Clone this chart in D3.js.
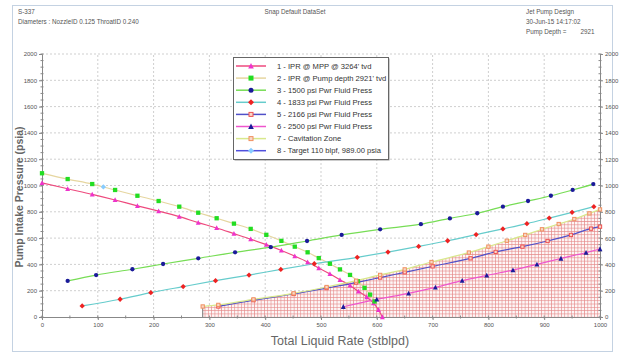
<!DOCTYPE html>
<html>
<head>
<meta charset="utf-8">
<script src="https://cdn.jsdelivr.net/npm/d3@7"></script>
<style>
  body { margin: 0; background: #fff; }
  text { font-family: "Liberation Sans", Arial, sans-serif; }
</style>
</head>
<body>
<script>
var width = 620,
    height = 356;

// series values [rate stblpd, pressure psia]
var iprMpp = [[0,1020],[46,975],[90,933],[131,890],[171,845],[209,805],[246,763],[280,718],[313,677],[344,634],[374,592],[402,550],[429,506],[453,463],[476,418],[496,372],[516,328],[534,283],[552,240],[567,195],[582,152],[594,105],[603,55],[610,0]];
var iprPump = [[0,1093],[46,1049],[90,1011],[131,966],[171,922],[209,882],[246,839],[280,793],[313,751],[344,710],[374,670],[402,625],[429,579],[453,535],[476,492],[496,448],[516,405],[534,362],[552,320],[566,272],[578,222],[588,170],[596,118]];
var pwr1500 = [[46,274],[97,319],[162,363],[217,403],[280,446],[346,492],[410,531],[475,578],[537,624],[606,667],[679,706],[731,750],[780,789],[826,839],[871,882],[912,922],[951,966],[988,1011]];
var pwr1833 = [[72,84],[140,135],[195,185],[253,231],[311,276],[371,319],[428,362],[488,405],[565,454],[620,494],[675,537],[727,580],[778,627],[826,670],[869,710],[909,752],[950,796],[989,839]];
var pwr2166 = [[316,80],[379,128],[451,175],[510,220],[563,262],[606,300],[650,340],[700,385],[768,446],[813,495],[861,535],[906,578],[948,624],[984,672],[1000,687]];
var pwr2500 = [[540,78],[600,134],[657,180],[705,225],[753,276],[797,316],[844,357],[887,400],[930,445],[975,490],[1000,517]];
var cavitation = [[288,80],[316,92],[379,134],[451,180],[510,228],[563,276],[606,320],[650,362],[698,418],[765,490],[800,535],[833,580],[866,624],[896,667],[926,707],[954,745],[981,788],[1000,818]];
var target = [[110,989]];

var seriesNames = ["1 - IPR @ MPP @ 3264' tvd", "2 - IPR @ Pump depth 2921' tvd", "3 - 1500 psi Pwr Fluid Press",
                   "4 - 1833 psi Pwr Fluid Press", "5 - 2166 psi Pwr Fluid Press", "6 - 2500 psi Pwr Fluid Press",
                   "7 - Cavitation Zone", "8 - Target 110 blpf, 989.00 psia"];

var xTicks = [0,100,200,300,400,500,600,700,800,900,1000];
var yTicks = [0,200,400,600,800,1000,1200,1400,1600,1800,2000];

var headerLeft = ["S-337", "Diameters : NozzleID 0.125 ThroatID 0.240"];
var headerRight = ["Jet Pump Design", "30-Jun-15 14:17:02", "Pump Depth =        2921"];
var headerMid = "Snap Default DataSet";

var series = [
  {name: seriesNames[0], data: iprMpp,     line: "#ee4a7e", mark: "#ee33cc", shape: "tri"},
  {name: seriesNames[1], data: iprPump,    line: "#e6d6a0", mark: "#22dd22", shape: "square"},
  {name: seriesNames[2], data: pwr1500,    line: "#77dd55", mark: "#1a1a99", shape: "circle"},
  {name: seriesNames[3], data: pwr1833,    line: "#66cccc", mark: "#ee2222", shape: "diamond"},
  {name: seriesNames[4], data: pwr2166,    line: "#5050c8", mark: "#ee5050", shape: "osquare"},
  {name: seriesNames[5], data: pwr2500,    line: "#ee55cc", mark: "#1a1a99", shape: "tri"},
  {name: seriesNames[6], data: cavitation, line: "#d8e88c", mark: "#f09060", shape: "osquare"},
  {name: seriesNames[7], data: target,     line: "#5050dd", mark: "#88ccff", shape: "diamond"}
];

var x = d3.scaleLinear().domain([0, 1000]).range([42, 600]);
var y = d3.scaleLinear().domain([0, 2000]).range([317, 54]);

var svg = d3.select("body").append("svg")
    .attr("width", width)
    .attr("height", height);

// frame
svg.append("rect")
    .attr("x", 12.5).attr("y", 5.5)
    .attr("width", 600).attr("height", 346)
    .attr("fill", "#fff")
    .attr("stroke", "#c4d2e2");

// header texts
svg.selectAll(".hl").data(headerLeft).enter().append("text")
    .attr("x", 18).attr("y", function(d, i) { return 14 + i * 10; })
    .attr("font-size", 6.3).attr("fill", "#555")
    .text(function(d) { return d; });
svg.append("text")
    .attr("x", 295).attr("y", 14)
    .attr("text-anchor", "middle")
    .attr("font-size", 6.3).attr("fill", "#555")
    .text(headerMid);
svg.selectAll(".hr").data(headerRight).enter().append("text")
    .attr("x", 526).attr("y", function(d, i) { return 14 + i * 10; })
    .attr("font-size", 6.3).attr("fill", "#555")
    .attr("xml:space", "preserve")
    .style("white-space", "pre")
    .text(function(d) { return d; });

// hatch pattern for cavitation zone
var defs = svg.append("defs");
var pat = defs.append("pattern")
    .attr("id", "hatch")
    .attr("patternUnits", "userSpaceOnUse")
    .attr("width", 3.3).attr("height", 3.3);
pat.append("rect").attr("width", 3.3).attr("height", 3.3).attr("fill", "#fdf6f6");
pat.append("path")
    .attr("d", "M0,0.4H3.3M0.4,0V3.3")
    .attr("stroke", "#e48a8a")
    .attr("stroke-width", 0.65);

// grid
svg.append("g").selectAll("line").data(xTicks.slice(1, -1)).enter().append("line")
    .attr("x1", function(d) { return x(d); }).attr("x2", function(d) { return x(d); })
    .attr("y1", y(0)).attr("y2", y(2000))
    .attr("stroke", "#cfcfcf").attr("stroke-dasharray", "2,2");
svg.append("g").selectAll("line").data(yTicks.slice(1)).enter().append("line")
    .attr("x1", x(0)).attr("x2", x(1000))
    .attr("y1", function(d) { return y(d); }).attr("y2", function(d) { return y(d); })
    .attr("stroke", "#cfcfcf").attr("stroke-dasharray", "2,2");

// cavitation zone fill
var area = d3.area()
    .x(function(d) { return x(d[0]); })
    .y0(y(0))
    .y1(function(d) { return y(d[1]); })
    .curve(d3.curveMonotoneX);
svg.append("path")
    .datum(cavitation)
    .attr("d", area)
    .attr("fill", "url(#hatch)");
svg.append("line")
    .attr("x1", x(cavitation[0][0])).attr("x2", x(cavitation[0][0]))
    .attr("y1", y(0)).attr("y2", y(cavitation[0][1]))
    .attr("stroke", "#777").attr("stroke-width", 1);

// axes
var xAxis = d3.axisBottom(x).tickValues(xTicks).tickSize(3).tickPadding(3).tickFormat(d3.format("d"));
var yAxisL = d3.axisLeft(y).tickValues(yTicks).tickSize(3).tickPadding(2).tickFormat(d3.format("d"));
var yAxisR = d3.axisRight(y).tickValues(yTicks).tickSize(3).tickPadding(2).tickFormat(d3.format("d"));

function styleAxis(g) {
  g.select(".domain").attr("stroke", "#888");
  g.selectAll(".tick line").attr("stroke", "#888");
  g.selectAll(".tick text").attr("fill", "#555").attr("font-size", 6)
      .attr("font-family", "Liberation Sans, Arial, sans-serif");
}

svg.append("g").attr("transform", "translate(0," + y(0) + ")").call(xAxis).call(styleAxis);
svg.append("g").attr("transform", "translate(" + x(0) + ",0)").call(yAxisL).call(styleAxis);
svg.append("g").attr("transform", "translate(" + x(1000) + ",0)").call(yAxisR).call(styleAxis);

// minor ticks
var xMinor = d3.range(0, 1001, 50), yMinor = d3.range(0, 2001, 50);
svg.append("g").selectAll("line").data(xMinor).enter().append("line")
    .attr("x1", function(d) { return x(d); }).attr("x2", function(d) { return x(d); })
    .attr("y1", y(0) - 1.5).attr("y2", y(0) + 1.5).attr("stroke", "#888");
svg.append("g").selectAll("line").data(yMinor).enter().append("line")
    .attr("x1", x(0) - 1.5).attr("x2", x(0) + 1.5)
    .attr("y1", function(d) { return y(d); }).attr("y2", function(d) { return y(d); })
    .attr("stroke", "#888");
svg.append("g").selectAll("line").data(yMinor).enter().append("line")
    .attr("x1", x(1000) - 1.5).attr("x2", x(1000) + 1.5)
    .attr("y1", function(d) { return y(d); }).attr("y2", function(d) { return y(d); })
    .attr("stroke", "#888");

// axis titles
svg.append("text")
    .attr("transform", "translate(23,197) rotate(-90)")
    .attr("text-anchor", "middle")
    .attr("font-size", 10.5).attr("font-weight", "bold").attr("fill", "#666")
    .text("Pump Intake Pressure (psia)");
svg.append("text")
    .attr("x", 340).attr("y", 345)
    .attr("text-anchor", "middle")
    .attr("font-size", 12.5).attr("fill", "#666")
    .text("Total Liquid Rate (stblpd)");

// lines
var line = d3.line()
    .x(function(d) { return x(d[0]); })
    .y(function(d) { return y(d[1]); })
    .curve(d3.curveMonotoneX);

svg.append("g").selectAll("path").data(series.filter(function(s) { return s.data.length > 1; }))
  .enter().append("path")
    .attr("d", function(s) { return line(s.data); })
    .attr("fill", "none")
    .attr("stroke", function(s) { return s.line; })
    .attr("stroke-width", 1.2);

// markers
function drawMark(g, shape, color, size) {
  var r = size / 2;
  if (shape === "circle") {
    g.append("circle").attr("r", r).attr("fill", color);
  } else if (shape === "square") {
    g.append("rect").attr("x", -r).attr("y", -r).attr("width", size).attr("height", size).attr("fill", color);
  } else if (shape === "osquare") {
    g.append("rect").attr("x", -r + 0.5).attr("y", -r + 0.5).attr("width", size - 1).attr("height", size - 1)
        .attr("fill", "#f8d8c8").attr("stroke", color).attr("stroke-width", 1);
  } else if (shape === "tri") {
    g.append("path").attr("d", "M0," + (-r - 0.5) + "L" + (r + 0.3) + "," + r + "L" + (-r - 0.3) + "," + r + "Z").attr("fill", color);
  } else if (shape === "diamond") {
    g.append("path").attr("d", "M0," + (-r - 0.5) + "L" + (r + 0.5) + ",0L0," + (r + 0.5) + "L" + (-r - 0.5) + ",0Z").attr("fill", color);
  }
}

series.forEach(function(s) {
  var g = svg.append("g");
  g.selectAll("g").data(s.data).enter().append("g")
      .attr("transform", function(d) { return "translate(" + x(d[0]) + "," + y(d[1]) + ")"; })
      .each(function() { drawMark(d3.select(this), s.shape, s.mark, 4.3); });
});

// legend
var lg = svg.append("g").attr("transform", "translate(233,57)");
lg.append("rect").attr("x", 1.5).attr("y", 1.5).attr("width", 155).attr("height", 102).attr("fill", "#999");
lg.append("rect").attr("x", 0.5).attr("y", 0.5).attr("width", 155).attr("height", 102)
    .attr("fill", "#fff").attr("stroke", "#666");
var items = lg.selectAll(".item").data(series).enter().append("g")
    .attr("transform", function(d, i) { return "translate(0," + (9 + i * 12.1) + ")"; });
items.append("line")
    .attr("x1", 3).attr("x2", 33)
    .attr("stroke", function(d) { return d.line; })
    .attr("stroke-width", 1.5);
items.append("g").attr("transform", "translate(18,0)")
    .each(function(d) { drawMark(d3.select(this), d.shape, d.mark, 5); });
items.append("text")
    .attr("x", 44).attr("y", 2.6)
    .attr("font-size", 7.6).attr("fill", "#333")
    .text(function(d) { return d.name; });
</script>
</body>
</html>
